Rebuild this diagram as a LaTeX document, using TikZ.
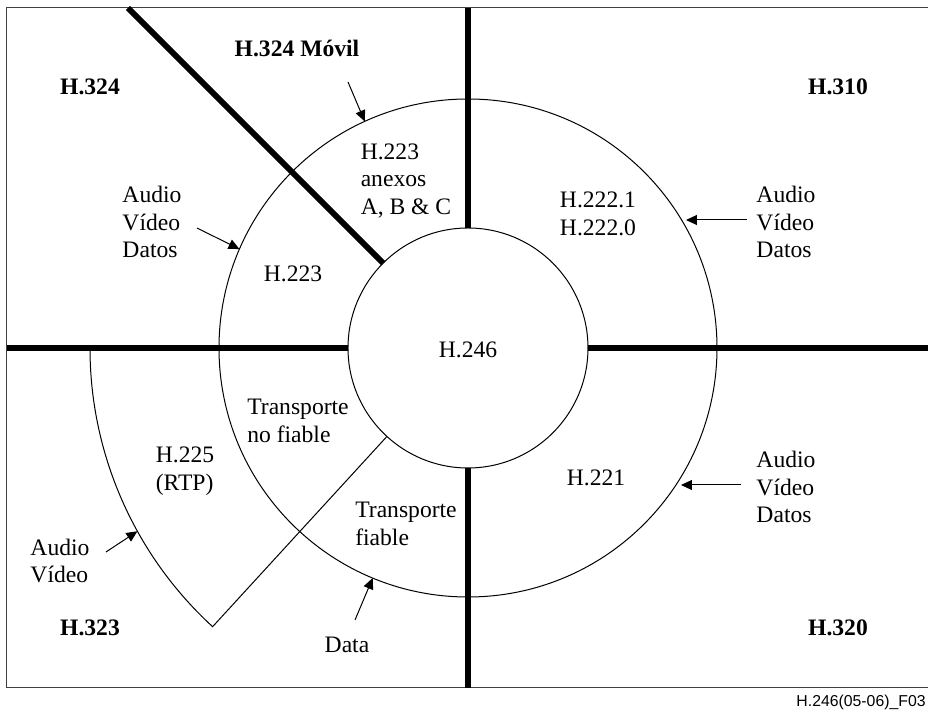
\documentclass[tikz,border=0pt]{standalone}
\usepackage{fontspec}
\setmainfont{Liberation Serif}
\setsansfont{Liberation Sans}
\usetikzlibrary{arrows.meta}

\begin{document}
\begin{tikzpicture}[x=0.5pt,y=0.5pt,
    thinline/.style={line width=0.5pt},
    thickline/.style={line width=2.9pt},
    txt/.style={font=\fontsize{11.8}{13.8}\selectfont,inner sep=0pt,align=left},
    ttl/.style={font=\fontsize{11.8}{13.8}\selectfont\bfseries,inner sep=0pt},
    pointer/.style={thinline,-{Triangle[length=5.5pt,width=5pt]}}]
      \useasboundingbox (-468,-363) rectangle (460,348) ;
      \draw[thinline,black!75] (-461,-340) rectangle (480,340) ;
      \draw[thinline] (0,0) circle (120) ;
      \draw[thinline] (0,0) circle (249) ;
      \draw[thinline] (-378,0) arc (180:227.5:378) -- (227.5:120) ;
      \draw[thickline] (-461,0) -- (-120,0) ;
      \draw[thickline] (120,0) -- (480,0) ;
      \draw[thickline] (0,120) -- (0,340) ;
      \draw[thickline] (0,-120) -- (0,-340) ;
      \draw[thickline] (135:120) -- (-340,340) ;
      \node[ttl] (h324) at (-378,261) {H.324} ;
      \node[ttl] (movil) at (-171,300) {H.324 Móvil} ;
      \node[ttl] (h310) at (370,261) {H.310} ;
      \node[ttl] (h323) at (-378,-280) {H.323} ;
      \node[ttl] (h320) at (370,-280) {H.320} ;
      \node[txt] (h246) at (0,-2) {H.246} ;
      \node[txt] (anexos) at (-62,167) {H.223\\anexos\\A, B \& C} ;
      \node[txt] (h223) at (-175,74) {H.223} ;
      \node[txt] (h222) at (130,134) {H.222.1\\H.222.0} ;
      \node[txt] (h221) at (128,-130) {H.221} ;
      \node[txt] (nofiable) at (-170,-73) {Transporte\\no fiable} ;
      \node[txt] (fiable) at (-62,-176) {Transporte\\fiable} ;
      \node[txt] (rtp) at (-283,-123) {H.225\\(RTP)} ;
      \node[txt] (avdL) at (-316,126) {Audio\\Vídeo\\Datos} ;
      \node[txt] (avdR) at (318,126) {Audio\\Vídeo\\Datos} ;
      \node[txt] (avdRR) at (318,-139) {Audio\\Vídeo\\Datos} ;
      \node[txt] (av) at (-408,-213) {Audio\\Vídeo} ;
      \node[txt] (data) at (-121,-297) {Data} ;
      \node[font=\sffamily\fontsize{7.9}{9}\selectfont,inner sep=0pt,anchor=east] %
      (fig) at (458,-354) {H.246(05-06)\_F03} ;
      \coordinate (movilA) at (-120,266) ;
      \coordinate (movilB) at (114.5:249) ;
      \coordinate (avdLA) at (-271,120) ;
      \coordinate (avdLB) at (156.6:249) ;
      \coordinate (avdRA) at (279,128) ;
      \coordinate (avdRB) at (218,128) ;
      \coordinate (avdRRA) at (273,-137) ;
      \coordinate (avdRRB) at (213,-137) ;
      \coordinate (avA) at (-362,-204) ;
      \coordinate (avB) at (209:378) ;
      \coordinate (dataA) at (-113,-272) ;
      \coordinate (dataB) at (247.5:249) ;
      \draw[pointer] (movilA) -- (movilB) ;
      \draw[pointer] (avdLA) -- (avdLB) ;
      \draw[pointer] (avdRA) -- (avdRB) ;
      \draw[pointer] (avdRRA) -- (avdRRB) ;
      \draw[pointer] (avA) -- (avB) ;
      \draw[pointer] (dataA) -- (dataB) ;
    \end{tikzpicture}
\end{document}
